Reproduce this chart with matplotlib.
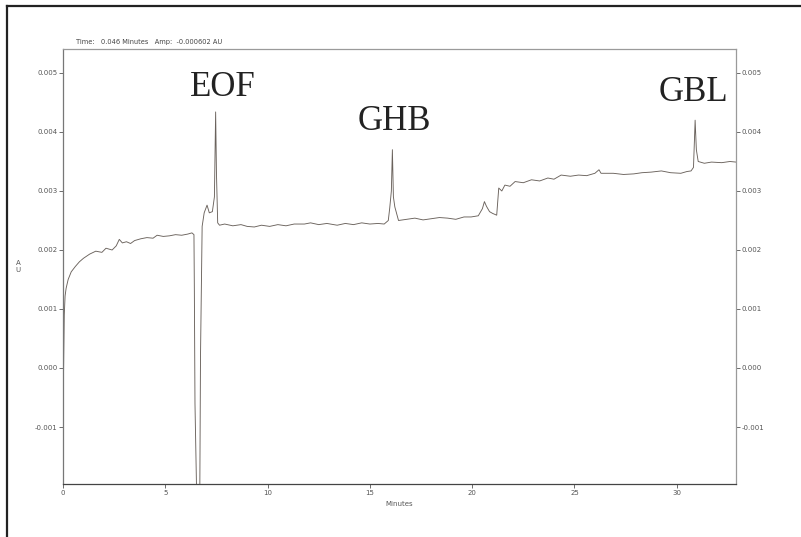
import matplotlib
matplotlib.use("Agg")
import matplotlib.pyplot as plt
from matplotlib.lines import Line2D

# electropherogram trace (minutes, AU)
t_min = [0.00, 0.02, 0.04, 0.06, 0.10, 0.15, 0.25, 0.40, 0.60, 0.80,
         1.00, 1.30, 1.60, 1.90, 2.10, 2.40, 2.60, 2.75, 2.90, 3.10,
         3.30, 3.50, 3.80, 4.10, 4.40, 4.60, 4.90, 5.20, 5.50, 5.80,
         6.10, 6.30, 6.40, 6.42, 6.45, 6.55, 6.65, 6.68, 6.72, 6.80,
         6.90, 7.04, 7.15, 7.30, 7.40, 7.46, 7.50, 7.56, 7.65, 7.90,
         8.30, 8.70, 9.00, 9.35, 9.70, 10.1, 10.5, 10.9, 11.3, 11.8,
         12.1, 12.5, 12.9, 13.4, 13.8, 14.2, 14.6, 15.0, 15.4, 15.7,
         15.9, 15.97, 16.05, 16.10, 16.15, 16.22, 16.40, 16.8, 17.2, 17.6,
         18.0, 18.4, 18.8, 19.2, 19.6, 19.95, 20.3, 20.5, 20.6, 20.7,
         20.85, 21.0, 21.2, 21.3, 21.45, 21.6, 21.85, 22.1, 22.5, 22.9,
         23.3, 23.7, 24.0, 24.35, 24.8, 25.2, 25.6, 26.0, 26.2, 26.3,
         26.9, 27.4, 27.9, 28.3, 28.75, 29.25, 29.7, 30.2, 30.5, 30.7,
         30.82, 30.90, 30.96, 31.05, 31.35, 31.7, 32.2, 32.6, 32.9]
au = [-0.00045, -0.0002, 0.0003, 0.0009, 0.00122, 0.00135, 0.0015, 0.00163, 0.00172, 0.0018,
      0.00186, 0.00193, 0.00198, 0.00196, 0.00203, 0.00200, 0.00207, 0.00218, 0.00212, 0.00214,
      0.00211, 0.00216, 0.00219, 0.00221, 0.00220, 0.00225, 0.00223, 0.00224, 0.00226, 0.00225,
      0.00227, 0.00229, 0.00226, 0.0013, -0.0006, -0.0025, -0.0025, -0.0025, 0.0002, 0.0024,
      0.00263, 0.00276, 0.00263, 0.00265, 0.0029, 0.00434, 0.0033, 0.00246, 0.00242, 0.00244,
      0.00241, 0.00243, 0.00240, 0.00239, 0.00242, 0.00240, 0.00243, 0.00241, 0.00244, 0.00244,
      0.00246, 0.00243, 0.00245, 0.00242, 0.00245, 0.00243, 0.00246, 0.00244, 0.00245, 0.00244,
      0.00250, 0.00271, 0.00300, 0.00370, 0.00290, 0.00273, 0.00250, 0.00252, 0.00254, 0.00251,
      0.00253, 0.00255, 0.00254, 0.00252, 0.00256, 0.00256, 0.00258, 0.00270, 0.00282, 0.00274,
      0.00265, 0.00262, 0.00259, 0.00305, 0.00300, 0.00310, 0.00308, 0.00316, 0.00314, 0.00319,
      0.00317, 0.00322, 0.00320, 0.00327, 0.00325, 0.00327, 0.00326, 0.00330, 0.00336, 0.00330,
      0.00330, 0.00328, 0.00329, 0.00331, 0.00332, 0.00334, 0.00331, 0.00330, 0.00333, 0.00334,
      0.00340, 0.00420, 0.00370, 0.00350, 0.00347, 0.00349, 0.00348, 0.00350, 0.00349]

peak_names = ["EOF", "GHB", "GBL"]
peak_label_x = [7.8, 16.2, 30.8]
peak_label_y = [0.00448, 0.00389, 0.00439]

y_ticks = [-0.001, 0.000, 0.001, 0.002, 0.003, 0.004, 0.005]
x_ticks = [0, 5, 10, 15, 20, 25, 30]

fig = plt.figure(figsize=(8.01, 5.37), dpi=100)
ax = fig.add_axes([0.0787, 0.0987, 0.8402, 0.8101])

ax.plot(t_min, au, color="#6a625c", lw=0.65)
ax.set_xlim(0, 32.9)
ax.set_ylim(-0.001966, 0.005407)

ax.set_xticks(x_ticks)
ax.set_xticklabels([str(v) for v in x_ticks])
ax.set_yticks(y_ticks)
ax.set_yticklabels(["%.3f" % v for v in y_ticks])
ax.tick_params(axis="both", labelsize=5, colors="#555555", length=3, width=0.6, pad=1)
ax.tick_params(axis="y", right=True, labelright=True)
for sp in ax.spines.values():
    sp.set_color("#9a9a9a")
    sp.set_linewidth(0.9)
ax.spines["bottom"].set_color("#444444")
ax.spines["left"].set_color("#777777")

ax.set_xlabel("Minutes", fontsize=5, color="#555555", labelpad=4)
ax.set_ylabel("A\nU", fontsize=5, color="#555555", rotation=0, labelpad=12, va="center")
ax.text(0.02, 1.008, "Time:   0.046 Minutes   Amp:  -0.000602 AU", transform=ax.transAxes,
        fontsize=4.8, color="#444444", va="bottom")

for name, px, py in zip(peak_names, peak_label_x, peak_label_y):
    ax.text(px, py, name, fontsize=25, family="Liberation Serif", color="#222222",
            ha="center", va="bottom")

# page frame
fig.add_artist(Line2D([0.0087, 0.0087], [0.0, 0.989], transform=fig.transFigure,
                      color="#222222", lw=1.6))
fig.add_artist(Line2D([0.0087, 1.0], [0.989, 0.989], transform=fig.transFigure,
                      color="#222222", lw=1.6))

fig.savefig("out.png", dpi=100, facecolor="white")
